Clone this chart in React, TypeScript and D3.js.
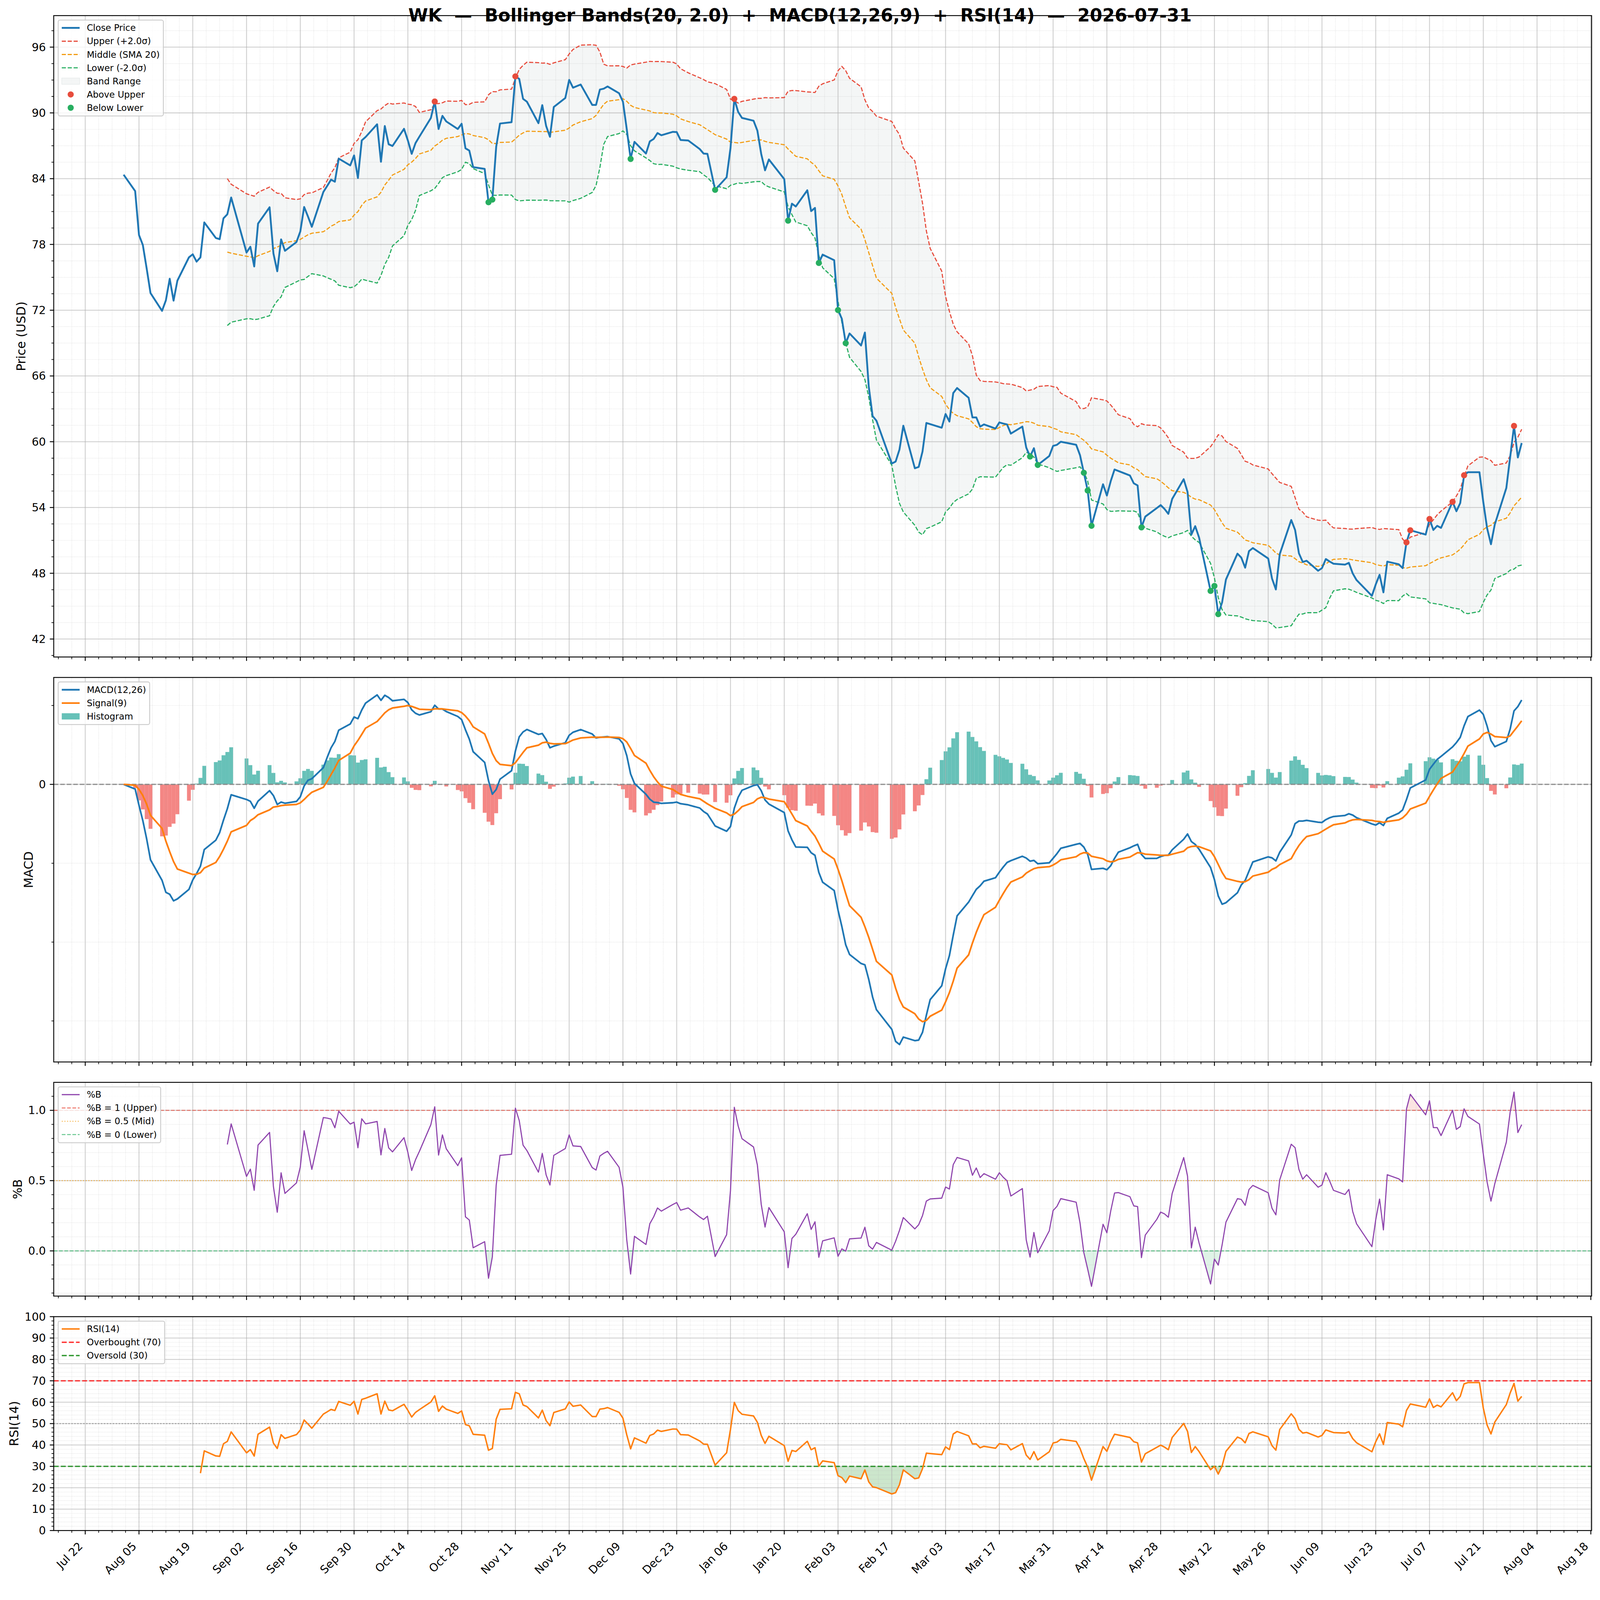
import React, { useEffect } from 'react';
import * as d3 from 'd3';

const TICKER = 'WK';
const AS_OF = '2026-07-31';

// trading sessions: weekdays from first to last session, minus exchange holidays
const FIRST_SESSION = '2025-08-01';
const LAST_SESSION = '2026-07-31';
const MARKET_HOLIDAYS = [
  '2025-09-01', '2025-11-27', '2025-12-25', '2026-01-01', '2026-01-19',
  '2026-02-16', '2026-04-03', '2026-05-25', '2026-06-19', '2026-07-03',
];

// daily closes (USD), month by month
const CLOSE_2025_08 = [84.36, 82.87, 78.86, 77.95, 75.8, 73.56, 71.94, 72.9, 74.87, 72.87, 74.7, 76.82, 77.1, 76.43, 76.82, 80.01, 78.59, 78.48, 80.38, 80.75, 82.28];
const CLOSE_2025_09 = [77.26, 77.79, 75.99, 79.9, 81.39, 77.18, 75.55, 78.46, 77.42, 78.22, 79.18, 81.42, 80.54, 79.61, 82.78, 83.34, 83.91, 83.72, 85.83, 85.21, 86.12];
const CLOSE_2025_10 = [84.06, 87.49, 87.8, 88.96, 85.54, 88.8, 87.14, 86.98, 88.55, 87.49, 86.26, 87.25, 87.83, 89.54, 91.04, 88.53, 89.73, 89.22, 88.53, 89.01, 86.77, 86.56, 85.05];
const CLOSE_2025_11 = [84.89, 81.85, 82.09, 86.9, 89.03, 89.15, 93.33, 93.1, 91.28, 91.02, 89.06, 90.71, 88.81, 87.82, 90.54, 91.36, 93.01, 92.3, 92.59];
const CLOSE_2025_12 = [90.73, 90.73, 92.13, 92.21, 92.41, 91.79, 91.02, 88.5, 85.8, 87.36, 86.29, 87.4, 87.62, 88.16, 87.96, 88.27, 88.25, 87.53, 87.48, 86.7, 86.29, 86.26];
const CLOSE_2026_01 = [82.98, 84.13, 86.77, 91.28, 90.09, 89.54, 89.29, 88.38, 86.26, 84.76, 85.75, 83.96, 80.17, 81.72, 81.46, 82.94, 81.04, 81.33, 76.31, 77.07];
const CLOSE_2026_02 = [76.56, 72.01, 71.21, 68.99, 69.88, 68.78, 69.96, 65.03, 62.35, 61.92, 58.01, 58.19, 59.29, 61.46, 57.58, 57.7, 59.11, 61.71, 61.61];
const CLOSE_2026_03 = [61.28, 62.53, 61.84, 64.44, 64.9, 64.01, 62.22, 62.22, 61.38, 61.58, 61.2, 61.76, 61.66, 61.58, 60.74, 61.38, 59.47, 58.65, 59.41, 57.88, 58.7, 59.62];
const CLOSE_2026_04 = [59.72, 60.0, 59.72, 58.78, 57.17, 55.55, 52.33, 56.12, 55.09, 56.4, 57.47, 57.33, 56.92, 56.21, 56.01, 52.18, 53.17, 53.95, 54.22, 53.87, 53.42];
const CLOSE_2026_05 = [54.78, 56.58, 55.42, 51.53, 52.3, 51.26, 46.39, 46.84, 44.27, 45.35, 47.43, 49.79, 49.42, 48.51, 50.02, 50.3, 49.35, 47.51, 46.52, 49.74];
const CLOSE_2026_06 = [52.86, 51.95, 49.82, 49.03, 49.14, 48.23, 48.47, 49.3, 49.07, 48.87, 48.79, 48.95, 47.99, 47.38, 45.94, 46.98, 47.86, 46.26, 49.06, 48.82, 48.47];
const CLOSE_2026_07 = [50.82, 51.92, 51.53, 52.95, 51.95, 52.33, 52.14, 54.52, 53.66, 54.41, 56.94, 57.22, 57.22, 54.5, 52.1, 50.65, 52.46, 55.78, 58.6, 61.44, 58.56, 59.88];

const BB_WINDOW = 20;
const BB_K = 2.0;
const MACD_FAST = 12;
const MACD_SLOW = 26;
const MACD_SIGNAL = 9;
const RSI_WINDOW = 14;
const RSI_OVERBOUGHT = 70;
const RSI_OVERSOLD = 30;

const X_TICK_FIRST = '2025-07-22';
const X_TICK_EVERY_DAYS = 14;

// ---- figure geometry (px) ----
const FIG_W = 4378;
const FIG_H = 4322;
const PT = 220 / 72;
const PLOT_L = 147;
const PLOT_R = 4355;
const PRICE_Y = [42.7, 1797.7];
const MACD_Y = [1853.7, 2905.8];
const PCTB_Y = [2961.6, 3546.4];
const RSI_Y = [3602.7, 4187.9];

const FONT = '"DejaVu Sans", sans-serif';
const TICK_FS = 10 * PT;
const LABEL_FS = 11 * PT;
const LEGEND_FS = 8 * PT;
const TITLE_FS = 16 * PT;
const MARKER_R = 8.4;

const C_CLOSE = '#1f77b4';
const C_UPPER = '#e74c3c';
const C_MID = '#f39c12';
const C_LOWER = '#27ae60';
const C_BAND = '#95a5a6';
const C_MACD = '#1f77b4';
const C_SIGNAL = '#ff7f0e';
const C_HIST_POS = '#26a69a';
const C_HIST_NEG = '#ef5350';
const C_PCTB = '#8e44ad';
const C_RSI = '#ff7f0e';

const LW_CLOSE = 1.65 * PT;
const LW_BAND = 1.0 * PT;
const LW_MACD = 1.5 * PT;
const LW_PCTB = 1.0 * PT;
const LW_RSI = 1.3 * PT;

// ---- series ----
const parseDay = d3.utcParse('%Y-%m-%d');
const isoDay = d3.utcFormat('%Y-%m-%d');
const tickDay = d3.utcFormat('%b %d');
const DAY = 864e5;

const holidays = new Set(MARKET_HOLIDAYS);
const sessions = d3.utcDay
  .range(parseDay(FIRST_SESSION)!, d3.utcDay.offset(parseDay(LAST_SESSION)!, 1))
  .filter(d => d.getUTCDay() % 6 !== 0 && !holidays.has(isoDay(d)));
const closesAll = [
  CLOSE_2025_08, CLOSE_2025_09, CLOSE_2025_10, CLOSE_2025_11, CLOSE_2025_12,
  CLOSE_2026_01, CLOSE_2026_02, CLOSE_2026_03, CLOSE_2026_04, CLOSE_2026_05,
  CLOSE_2026_06, CLOSE_2026_07,
].flat();
const n = Math.min(sessions.length, closesAll.length);
const closes = closesAll.slice(0, n);

function ema(values: number[], span: number) {
  const a = 2 / (span + 1);
  const out: number[] = [];
  values.forEach((v, i) => out.push(i === 0 ? v : a * v + (1 - a) * out[i - 1]));
  return out;
}

const emaFast = ema(closes, MACD_FAST);
const emaSlow = ema(closes, MACD_SLOW);
const macd = closes.map((_, i) => emaFast[i] - emaSlow[i]);
const signal = ema(macd, MACD_SIGNAL);

// Wilder smoothing, first value from the first difference
const rsi: (number | null)[] = [];
{
  const a = 1 / RSI_WINDOW;
  let ag = 0;
  let al = 0;
  closes.forEach((c, i) => {
    if (i === 0) { rsi.push(null); return; }
    const d = c - closes[i - 1];
    const g = Math.max(d, 0);
    const l = Math.max(-d, 0);
    if (i === 1) { ag = g; al = l; } else { ag = a * g + (1 - a) * ag; al = a * l + (1 - a) * al; }
    rsi.push(i < RSI_WINDOW ? null : (al === 0 ? 100 : 100 - 100 / (1 + ag / al)));
  });
}

type Row = {
  t: number; close: number; mid: number | null; upper: number | null; lower: number | null;
  pctB: number | null; macd: number; signal: number; hist: number; rsi: number | null;
};

const rows: Row[] = closes.map((c, i) => {
  let mid: number | null = null, upper: number | null = null, lower: number | null = null, pctB: number | null = null;
  if (i >= BB_WINDOW - 1) {
    const win = closes.slice(i - BB_WINDOW + 1, i + 1);
    mid = d3.mean(win)!;
    const sd = d3.deviation(win)!;
    upper = mid + BB_K * sd;
    lower = mid - BB_K * sd;
    pctB = (c - lower) / (upper - lower);
  }
  return { t: +sessions[i], close: c, mid, upper, lower, pctB, macd: macd[i], signal: signal[i], hist: macd[i] - signal[i], rsi: rsi[i] };
});

const banded = rows.filter(r => r.upper != null);
const aboveUpper = banded.filter(r => r.close > (r.upper as number));
const belowLower = banded.filter(r => r.close < (r.lower as number));

// ---- scales ----
function padded(vals: number[]): [number, number] {
  const [lo, hi] = d3.extent(vals) as [number, number];
  const r = hi - lo;
  return [lo - 0.05 * r, hi + 0.05 * r];
}

const t0 = rows[0].t;
const t1 = rows[rows.length - 1].t;
const x = d3.scaleUtc()
  .domain([new Date(t0 - 0.05 * (t1 - t0)), new Date(t1 + 0.05 * (t1 - t0))])
  .range([PLOT_L, PLOT_R]);

const yPrice = d3.scaleLinear()
  .domain(padded(rows.flatMap(r => (r.upper == null ? [r.close] : [r.close, r.upper, r.lower as number]))))
  .range([PRICE_Y[1], PRICE_Y[0]]);
const yMacd = d3.scaleLinear()
  .domain(padded(rows.flatMap(r => [r.macd, r.signal, r.hist, 0])))
  .range([MACD_Y[1], MACD_Y[0]]);
const yPctB = d3.scaleLinear()
  .domain(padded(banded.map(r => r.pctB as number)))
  .range([PCTB_Y[1], PCTB_Y[0]]);
const yRsi = d3.scaleLinear().domain([0, 100]).range([RSI_Y[1], RSI_Y[0]]);

function stepTicks(domain: number[], step: number, ndiv: number) {
  const lo = Math.min(domain[0], domain[1]);
  const hi = Math.max(domain[0], domain[1]);
  const m = step / ndiv;
  const ks = d3.range(Math.ceil(lo / m - 1e-9), Math.floor(hi / m + 1e-9) + 1);
  return {
    major: ks.filter(k => k % ndiv === 0).map(k => k * m),
    minor: ks.filter(k => k % ndiv !== 0).map(k => k * m),
  };
}

const xAnchor = +parseDay(X_TICK_FIRST)!;
const [xLo, xHi] = x.domain().map(Number);
const xStep = X_TICK_EVERY_DAYS * DAY;
const xMinorStep = xStep / 4;
const xKs = d3.range(Math.ceil((xLo - xAnchor) / xMinorStep), Math.floor((xHi - xAnchor) / xMinorStep) + 1);
const xMajor = xKs.filter(k => ((k % 4) + 4) % 4 === 0).map(k => xAnchor + k * xMinorStep);
const xMinor = xKs.filter(k => ((k % 4) + 4) % 4 !== 0).map(k => xAnchor + k * xMinorStep);

const priceTicks = stepTicks(yPrice.domain(), 6, 4);
const macdTicks = stepTicks(yMacd.domain(), 10, 5);
const pctbTicks = stepTicks(yPctB.domain(), 0.5, 5);
const rsiTicks = stepTicks(yRsi.domain(), 10, 5);

// ---- helpers ----
type Pt = { t: number; v: number };
function withCrossings(pts: Pt[], level: number): Pt[] {
  const out: Pt[] = [];
  pts.forEach((p, i) => {
    if (i > 0) {
      const a = pts[i - 1];
      if ((a.v - level) * (p.v - level) < 0) {
        const f = (level - a.v) / (p.v - a.v);
        out.push({ t: a.t + f * (p.t - a.t), v: level });
      }
    }
    out.push(p);
  });
  return out;
}
function beyondArea(pts: Pt[], level: number, side: 'above' | 'below', y: d3.ScaleLinear<number, number>) {
  return d3.area<Pt>()
    .x(d => x(d.t))
    .y0(y(level))
    .y1(d => y(side === 'above' ? Math.max(d.v, level) : Math.min(d.v, level)))(withCrossings(pts, level)) || '';
}

let measureCtx: CanvasRenderingContext2D | null = null;
function measureText(s: string, fs: number) {
  if (!measureCtx) measureCtx = document.createElement('canvas').getContext('2d');
  if (!measureCtx) return s.length * fs * 0.6;
  measureCtx.font = `${fs}px "DejaVu Sans"`;
  return measureCtx.measureText(s).width;
}

const dashed = (lw: number) => `${3.7 * lw} ${1.6 * lw}`;
const dotted = (lw: number) => `${1 * lw} ${1.65 * lw}`;

function Grid({ top, bottom, y, ticks }: { top: number; bottom: number; y: d3.ScaleLinear<number, number>; ticks: { major: number[]; minor: number[] } }) {
  const minor = { stroke: '#b0b0b0', strokeOpacity: 0.45, strokeWidth: 0.5 * PT, strokeDasharray: dotted(0.5 * PT) };
  const major = { stroke: '#b0b0b0', strokeOpacity: 0.6, strokeWidth: 0.8 * PT };
  return (
    <g>
      {xMinor.map(t => <line key={'xn' + t} x1={x(t)} x2={x(t)} y1={top} y2={bottom} {...minor} />)}
      {ticks.minor.map(v => <line key={'yn' + v} x1={PLOT_L} x2={PLOT_R} y1={y(v)} y2={y(v)} {...minor} />)}
      {xMajor.map(t => <line key={'xj' + t} x1={x(t)} x2={x(t)} y1={top} y2={bottom} {...major} />)}
      {ticks.major.map(v => <line key={'yj' + v} x1={PLOT_L} x2={PLOT_R} y1={y(v)} y2={y(v)} {...major} />)}
    </g>
  );
}

function Frame({ top, bottom, y, ticks, fmt, label, labelX, xLabels }: {
  top: number; bottom: number; y: d3.ScaleLinear<number, number>; ticks: { major: number[]; minor: number[] };
  fmt: (v: number) => string; label: string; labelX: number; xLabels?: boolean;
}) {
  const majLen = 3.5 * PT, minLen = 2 * PT;
  return (
    <g>
      <rect x={PLOT_L} y={top} width={PLOT_R - PLOT_L} height={bottom - top} fill="none" stroke="#000" strokeWidth={0.8 * PT} />
      {ticks.minor.map(v => <line key={'m' + v} x1={PLOT_L - minLen} x2={PLOT_L} y1={y(v)} y2={y(v)} stroke="#000" strokeWidth={0.6 * PT} />)}
      {ticks.major.map(v => <line key={'M' + v} x1={PLOT_L - majLen} x2={PLOT_L} y1={y(v)} y2={y(v)} stroke="#000" strokeWidth={0.8 * PT} />)}
      {ticks.major.map(v => (
        <text key={'L' + v} x={PLOT_L - majLen - 3.5 * PT} y={y(v)} textAnchor="end" dominantBaseline="central" fontSize={TICK_FS}>{fmt(v)}</text>
      ))}
      {xMinor.map(t => <line key={'xm' + t} x1={x(t)} x2={x(t)} y1={bottom} y2={bottom + minLen} stroke="#000" strokeWidth={0.6 * PT} />)}
      {xMajor.map(t => <line key={'xM' + t} x1={x(t)} x2={x(t)} y1={bottom} y2={bottom + majLen} stroke="#000" strokeWidth={0.8 * PT} />)}
      {xLabels && xMajor.map(t => (
        <text key={'xl' + t} transform={`translate(${x(t) - 5},${bottom + 45}) rotate(-45)`} textAnchor="end" fontSize={TICK_FS}>
          {tickDay(new Date(t))}
        </text>
      ))}
      <text transform={`translate(${labelX},${(top + bottom) / 2}) rotate(-90)`} textAnchor="middle" fontSize={LABEL_FS}>{label}</text>
    </g>
  );
}

type LegendItem = {
  label: string; kind: 'line' | 'patch' | 'marker'; color: string;
  width?: number; dash?: string; opacity?: number; stroke?: string;
};

function Legend({ top, items }: { top: number; items: LegendItem[] }) {
  const fs = LEGEND_FS;
  const left = PLOT_L + 0.5 * fs;
  const pad = 0.4 * fs, handleLen = 2 * fs, gap = 0.8 * fs;
  const textW = Math.max(...items.map(it => measureText(it.label, fs)));
  const w = pad + handleLen + gap + textW + pad;
  const pitch = 1.49 * fs, first = 0.875 * fs;
  const h = first + (items.length - 1) * pitch + 0.915 * fs;
  const hx0 = left + pad, hx1 = hx0 + handleLen, tx = hx1 + gap;
  return (
    <g>
      <rect x={left} y={top} width={w} height={h} rx={0.2 * fs} fill="#fff" fillOpacity={0.8} stroke="#cccccc" strokeWidth={0.8 * PT} />
      {items.map((it, i) => {
        const cy = top + first + i * pitch;
        return (
          <g key={it.label}>
            {it.kind === 'line' && (
              <line x1={hx0} x2={hx1} y1={cy} y2={cy} stroke={it.color} strokeWidth={it.width} strokeDasharray={it.dash} strokeOpacity={it.opacity ?? 1} />
            )}
            {it.kind === 'patch' && (
              <rect x={hx0} y={cy - 0.35 * fs} width={handleLen} height={0.7 * fs} fill={it.color} fillOpacity={it.opacity ?? 1}
                stroke={it.stroke ?? 'none'} strokeWidth={1.5} />
            )}
            {it.kind === 'marker' && <circle cx={(hx0 + hx1) / 2} cy={cy} r={MARKER_R} fill={it.color} />}
            <text x={tx} y={cy} dominantBaseline="central" fontSize={fs}>{it.label}</text>
          </g>
        );
      })}
    </g>
  );
}

export default function App() {
  useEffect(() => {
    document.body.style.margin = '0';
    document.body.style.overflow = 'hidden';
  }, []);

  const closeLine = d3.line<Row>().x(r => x(r.t)).y(r => yPrice(r.close));
  const bandLine = (key: 'upper' | 'mid' | 'lower') =>
    d3.line<Row>().x(r => x(r.t)).y(r => yPrice(r[key] as number))(banded) || '';
  const bandArea = d3.area<Row>().x(r => x(r.t)).y0(r => yPrice(r.lower as number)).y1(r => yPrice(r.upper as number))(banded) || '';

  const macdLine = d3.line<Row>().x(r => x(r.t)).y(r => yMacd(r.macd))(rows) || '';
  const signalLine = d3.line<Row>().x(r => x(r.t)).y(r => yMacd(r.signal))(rows) || '';

  const pctbPts: Pt[] = banded.map(r => ({ t: r.t, v: r.pctB as number }));
  const pctbLine = d3.line<Pt>().x(p => x(p.t)).y(p => yPctB(p.v))(pctbPts) || '';

  const rsiPts: Pt[] = rows.filter(r => r.rsi != null).map(r => ({ t: r.t, v: r.rsi as number }));
  const rsiLine = d3.line<Pt>().x(p => x(p.t)).y(p => yRsi(p.v))(rsiPts) || '';

  const clip = (id: string, top: number, bottom: number) => (
    <clipPath id={id}><rect x={PLOT_L} y={top} width={PLOT_R - PLOT_L} height={bottom - top} /></clipPath>
  );

  const title = `${TICKER}  —  Bollinger Bands(${BB_WINDOW}, ${BB_K.toFixed(1)})  +  MACD(${MACD_FAST},${MACD_SLOW},${MACD_SIGNAL})  +  RSI(${RSI_WINDOW})  —  ${AS_OF}`;

  return (
    <div style={{ position: 'fixed', left: 0, top: 0, width: '100vw', height: '100vh', background: '#fff' }}>
      <svg width="100%" height="100%" viewBox={`0 0 ${FIG_W} ${FIG_H}`} preserveAspectRatio="xMidYMin meet"
        style={{ display: 'block' }} fontFamily={FONT}>
        <defs>
          {clip('c-price', PRICE_Y[0], PRICE_Y[1])}
          {clip('c-macd', MACD_Y[0], MACD_Y[1])}
          {clip('c-pctb', PCTB_Y[0], PCTB_Y[1])}
          {clip('c-rsi', RSI_Y[0], RSI_Y[1])}
        </defs>
        <rect width={FIG_W} height={FIG_H} fill="#fff" />

        {/* price + bands */}
        <g clipPath="url(#c-price)">
          <path d={bandArea} fill={C_BAND} fillOpacity={0.1} />
          <Grid top={PRICE_Y[0]} bottom={PRICE_Y[1]} y={yPrice} ticks={priceTicks} />
          <path d={bandLine('upper')} fill="none" stroke={C_UPPER} strokeWidth={LW_BAND} strokeDasharray={dashed(LW_BAND)} />
          <path d={bandLine('mid')} fill="none" stroke={C_MID} strokeWidth={LW_BAND} strokeDasharray={dashed(LW_BAND)} />
          <path d={bandLine('lower')} fill="none" stroke={C_LOWER} strokeWidth={LW_BAND} strokeDasharray={dashed(LW_BAND)} />
          <path d={closeLine(rows) || ''} fill="none" stroke={C_CLOSE} strokeWidth={LW_CLOSE} strokeLinejoin="round" />
          {aboveUpper.map(r => <circle key={'a' + r.t} cx={x(r.t)} cy={yPrice(r.close)} r={MARKER_R} fill={C_UPPER} />)}
          {belowLower.map(r => <circle key={'b' + r.t} cx={x(r.t)} cy={yPrice(r.close)} r={MARKER_R} fill={C_LOWER} />)}
        </g>
        <Frame top={PRICE_Y[0]} bottom={PRICE_Y[1]} y={yPrice} ticks={priceTicks} fmt={v => String(Math.round(v))} label="Price (USD)" labelX={70} />
        <Legend top={PRICE_Y[0] + 0.5 * LEGEND_FS} items={[
          { label: 'Close Price', kind: 'line', color: C_CLOSE, width: LW_CLOSE },
          { label: `Upper (+${BB_K.toFixed(1)}σ)`, kind: 'line', color: C_UPPER, width: LW_BAND, dash: dashed(LW_BAND) },
          { label: `Middle (SMA ${BB_WINDOW})`, kind: 'line', color: C_MID, width: LW_BAND, dash: dashed(LW_BAND) },
          { label: `Lower (-${BB_K.toFixed(1)}σ)`, kind: 'line', color: C_LOWER, width: LW_BAND, dash: dashed(LW_BAND) },
          { label: 'Band Range', kind: 'patch', color: C_BAND, opacity: 0.1, stroke: '#e6eaea' },
          { label: 'Above Upper', kind: 'marker', color: C_UPPER },
          { label: 'Below Lower', kind: 'marker', color: C_LOWER },
        ]} />

        {/* MACD */}
        <g clipPath="url(#c-macd)">
          {rows.map(r => {
            const x0 = x(r.t - DAY / 2), x1 = x(r.t + DAY / 2);
            const ya = yMacd(r.hist), yb = yMacd(0);
            return <rect key={'h' + r.t} x={x0} width={x1 - x0} y={Math.min(ya, yb)} height={Math.abs(ya - yb)}
              fill={r.hist >= 0 ? C_HIST_POS : C_HIST_NEG} fillOpacity={0.7} />;
          })}
          <Grid top={MACD_Y[0]} bottom={MACD_Y[1]} y={yMacd} ticks={macdTicks} />
          <line x1={PLOT_L} x2={PLOT_R} y1={yMacd(0)} y2={yMacd(0)} stroke="#808080" strokeOpacity={0.85} strokeWidth={1.1 * PT} strokeDasharray={dashed(1.1 * PT)} />
          <path d={macdLine} fill="none" stroke={C_MACD} strokeWidth={LW_MACD} strokeLinejoin="round" />
          <path d={signalLine} fill="none" stroke={C_SIGNAL} strokeWidth={LW_MACD} strokeLinejoin="round" />
        </g>
        <Frame top={MACD_Y[0]} bottom={MACD_Y[1]} y={yMacd} ticks={macdTicks} fmt={v => d3.format('d')(v)} label="MACD" labelX={90} />
        <Legend top={MACD_Y[0] + 0.5 * LEGEND_FS} items={[
          { label: `MACD(${MACD_FAST},${MACD_SLOW})`, kind: 'line', color: C_MACD, width: LW_MACD },
          { label: `Signal(${MACD_SIGNAL})`, kind: 'line', color: C_SIGNAL, width: LW_MACD },
          { label: 'Histogram', kind: 'patch', color: C_HIST_POS, opacity: 0.7 },
        ]} />

        {/* %B */}
        <g clipPath="url(#c-pctb)">
          <path d={beyondArea(pctbPts, 1, 'above', yPctB)} fill={C_UPPER} fillOpacity={0.15} />
          <path d={beyondArea(pctbPts, 0, 'below', yPctB)} fill={C_LOWER} fillOpacity={0.15} />
          <Grid top={PCTB_Y[0]} bottom={PCTB_Y[1]} y={yPctB} ticks={pctbTicks} />
          <line x1={PLOT_L} x2={PLOT_R} y1={yPctB(1)} y2={yPctB(1)} stroke={C_UPPER} strokeOpacity={0.7} strokeWidth={0.9 * PT} strokeDasharray={dashed(0.9 * PT)} />
          <line x1={PLOT_L} x2={PLOT_R} y1={yPctB(0.5)} y2={yPctB(0.5)} stroke={C_MID} strokeOpacity={0.7} strokeWidth={0.9 * PT} strokeDasharray={dotted(0.9 * PT)} />
          <line x1={PLOT_L} x2={PLOT_R} y1={yPctB(0)} y2={yPctB(0)} stroke={C_LOWER} strokeOpacity={0.7} strokeWidth={0.9 * PT} strokeDasharray={dashed(0.9 * PT)} />
          <path d={pctbLine} fill="none" stroke={C_PCTB} strokeWidth={LW_PCTB} strokeLinejoin="round" />
        </g>
        <Frame top={PCTB_Y[0]} bottom={PCTB_Y[1]} y={yPctB} ticks={pctbTicks} fmt={v => d3.format('.1f')(v)} label="%B" labelX={60} />
        <Legend top={PCTB_Y[0] + 0.5 * LEGEND_FS} items={[
          { label: '%B', kind: 'line', color: C_PCTB, width: LW_PCTB },
          { label: '%B = 1 (Upper)', kind: 'line', color: C_UPPER, width: 0.9 * PT, dash: dashed(0.9 * PT), opacity: 0.7 },
          { label: '%B = 0.5 (Mid)', kind: 'line', color: C_MID, width: 0.9 * PT, dash: dotted(0.9 * PT), opacity: 0.7 },
          { label: '%B = 0 (Lower)', kind: 'line', color: C_LOWER, width: 0.9 * PT, dash: dashed(0.9 * PT), opacity: 0.7 },
        ]} />

        {/* RSI */}
        <g clipPath="url(#c-rsi)">
          <path d={beyondArea(rsiPts, RSI_OVERBOUGHT, 'above', yRsi)} fill="#ff0000" fillOpacity={0.2} />
          <path d={beyondArea(rsiPts, RSI_OVERSOLD, 'below', yRsi)} fill="#008000" fillOpacity={0.2} />
          <Grid top={RSI_Y[0]} bottom={RSI_Y[1]} y={yRsi} ticks={rsiTicks} />
          <line x1={PLOT_L} x2={PLOT_R} y1={yRsi(50)} y2={yRsi(50)} stroke="#808080" strokeOpacity={0.7} strokeWidth={1.0 * PT} strokeDasharray={dotted(1.0 * PT)} />
          <line x1={PLOT_L} x2={PLOT_R} y1={yRsi(RSI_OVERBOUGHT)} y2={yRsi(RSI_OVERBOUGHT)} stroke="#ff0000" strokeOpacity={0.8} strokeWidth={1.2 * PT} strokeDasharray={dashed(1.2 * PT)} />
          <line x1={PLOT_L} x2={PLOT_R} y1={yRsi(RSI_OVERSOLD)} y2={yRsi(RSI_OVERSOLD)} stroke="#008000" strokeOpacity={0.8} strokeWidth={1.2 * PT} strokeDasharray={dashed(1.2 * PT)} />
          <path d={rsiLine} fill="none" stroke={C_RSI} strokeWidth={LW_RSI} strokeLinejoin="round" />
        </g>
        <Frame top={RSI_Y[0]} bottom={RSI_Y[1]} y={yRsi} ticks={rsiTicks} fmt={v => d3.format('d')(v)} label={`RSI(${RSI_WINDOW})`} labelX={50} xLabels />
        <Legend top={RSI_Y[0] + 0.5 * LEGEND_FS} items={[
          { label: `RSI(${RSI_WINDOW})`, kind: 'line', color: C_RSI, width: LW_RSI },
          { label: `Overbought (${RSI_OVERBOUGHT})`, kind: 'line', color: '#ff0000', width: 1.2 * PT, dash: dashed(1.2 * PT), opacity: 0.8 },
          { label: `Oversold (${RSI_OVERSOLD})`, kind: 'line', color: '#008000', width: 1.2 * PT, dash: dashed(1.2 * PT), opacity: 0.8 },
        ]} />

        <text x={FIG_W / 2} y={59} textAnchor="middle" fontSize={TITLE_FS} fontWeight="bold" style={{ whiteSpace: 'pre' }}>{title}</text>
      </svg>
    </div>
  );
}
